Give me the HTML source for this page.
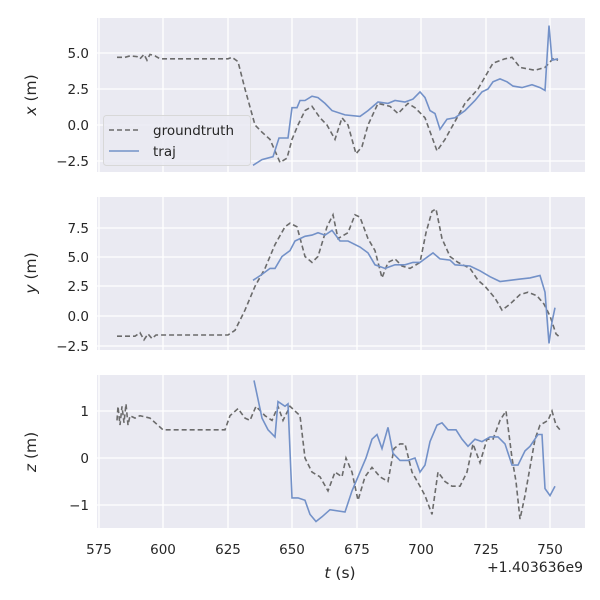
<!DOCTYPE html>
<html><head><meta charset="utf-8"><style>body{margin:0;background:#fff}svg{display:block}text{font-family:"DejaVu Sans","Liberation Sans",sans-serif;fill:#262626}</style></head>
<body>
<svg id="s" width="600" height="600" xmlns="http://www.w3.org/2000/svg">
<rect width="600" height="600" fill="#fff"/>
<g id="g"></g>
<text x="340" y="578" font-size="15.5" text-anchor="middle"><tspan font-style="italic">t</tspan> (s)</text>
<text x="583" y="572" font-size="14" text-anchor="end">+1.403636e9</text>
<text transform="translate(36,95) rotate(-90)" font-size="15.5" text-anchor="middle"><tspan font-style="italic">x</tspan> (m)</text>
<text transform="translate(36,273) rotate(-90)" font-size="15.5" text-anchor="middle"><tspan font-style="italic">y</tspan> (m)</text>
<text transform="translate(36,452) rotate(-90)" font-size="15.5" text-anchor="middle"><tspan font-style="italic">z</tspan> (m)</text>
</svg>
<script>
const g=document.getElementById('g');let h='';
const xt=[[575,99],[600,163],[625,228],[650,292],[675,357],[700,421],[725,486],[750,550]];
const panels=[
{y0:18,y1:172,ticks:[[53,'5.0'],[89,'2.5'],[125,'0.0'],[161,'−2.5']],f:v=>125-v*14.4,
gt:[[117,4.7],[125,4.7],[130,4.8],[137,4.75],[140,4.6],[144,4.9],[147,4.5],[150,4.9],[155,4.8],[160,4.6],[228,4.6],[232,4.7],[238,4.4],[245,2.5],[255,0],[262,-0.5],[270,-1],[280,-2.6],[287,-2.3],[292,-1],[298,0],[305,1],[312,1.3],[320,0.5],[327,0],[335,-1],[342,0.5],[348,0],[356,-2],[362,-1.5],[368,0],[378,1.5],[390,1.3],[398,0.8],[408,1.5],[415,1.2],[425,0.5],[437,-1.8],[445,-1],[453,0],[465,1.5],[478,2.5],[493,4.3],[505,4.6],[512,4.7],[520,4],[535,3.8],[545,4],[553,4.6],[558,4.5]],
tr:[[253,-2.8],[262,-2.4],[273,-2.2],[279,-0.9],[288,-0.9],[292,1.2],[297,1.2],[300,1.7],[305,1.7],[312,2.0],[318,1.9],[325,1.5],[332,1.0],[345,0.7],[360,0.6],[368,1.0],[378,1.6],[388,1.5],[395,1.7],[405,1.6],[413,1.8],[420,2.3],[425,1.9],[430,1.0],[435,0.8],[440,-0.3],[447,0.4],[455,0.5],[465,1.0],[475,1.7],[482,2.3],[488,2.5],[493,3.0],[500,3.2],[507,3.0],[513,2.7],[522,2.6],[532,2.8],[540,2.6],[545,2.4],[549,6.9],[552,4.5],[558,4.6]]},
{y0:197,y1:350,ticks:[[228,'7.5'],[257,'5.0'],[286,'2.5'],[316,'0.0'],[346,'−2.5']],f:v=>316-v*11.9,
gt:[[117,-1.7],[135,-1.7],[140,-1.4],[144,-2],[148,-1.5],[152,-1.9],[156,-1.6],[228,-1.6],[235,-1.2],[245,0.5],[255,2.5],[265,4],[275,6],[285,7.5],[290,7.8],[297,7.5],[305,5],[312,4.5],[318,5],[327,7.5],[333,8.5],[338,6.5],[348,7],[355,8.5],[360,8.3],[368,6.5],[375,5.5],[382,3.2],[388,4.5],[395,4.8],[402,4.2],[410,4.0],[420,4.5],[426,7.0],[432,8.8],[436,9.0],[442,6.5],[450,5.0],[458,4.5],[470,4.0],[478,3.0],[485,2.5],[495,1.5],[502,0.5],[510,1.0],[520,1.8],[528,2.0],[537,1.7],[544,1.0],[550,0],[556,-1.5],[560,-1.8]],
tr:[[253,3.0],[262,3.5],[270,4.0],[275,4.0],[282,5.0],[290,5.5],[295,6.3],[305,6.7],[312,6.8],[318,7.0],[325,6.8],[332,7.2],[340,6.3],[348,6.3],[360,5.8],[368,5.3],[375,4.3],[385,4.0],[395,4.3],[405,4.3],[413,4.5],[420,4.5],[428,5.0],[433,5.3],[440,4.8],[450,4.7],[455,4.3],[470,4.2],[480,3.8],[490,3.3],[500,2.9],[510,3.0],[520,3.1],[530,3.2],[540,3.4],[545,2.0],[549,-2.3],[552,-0.5],[555,0.7]]},
{y0:375,y1:528,ticks:[[411,'1'],[458,'0'],[505,'−1']],f:v=>458-v*47,
gt:[[117,0.8],[118,1.1],[120,0.7],[122,1.1],[124,0.75],[126,1.15],[128,0.7],[130,0.9],[135,0.85],[140,0.9],[150,0.85],[163,0.6],[225,0.6],[230,0.9],[238,1.05],[245,0.85],[250,0.8],[256,1.1],[265,0.9],[272,0.8],[278,1.1],[283,0.8],[290,1.1],[295,1.0],[300,0.9],[305,0.0],[312,-0.3],[320,-0.4],[328,-0.7],[335,-0.3],[342,-0.4],[346,0.0],[352,-0.3],[358,-0.9],[365,-0.4],[372,-0.2],[380,-0.4],[388,-0.5],[394,0.2],[400,0.3],[405,0.3],[412,-0.3],[420,-0.6],[425,-0.8],[432,-1.2],[438,-0.3],[445,-0.5],[452,-0.6],[460,-0.6],[467,-0.3],[473,0.3],[480,-0.1],[487,0.4],[493,0.4],[500,0.8],[506,1.0],[512,0.0],[516,-0.5],[520,-1.3],[525,-0.8],[530,-0.2],[535,0.4],[540,0.7],[548,0.8],[552,1.0],[556,0.7],[560,0.6]],
tr:[[254,1.65],[262,0.85],[268,0.6],[275,0.45],[278,1.2],[285,1.1],[288,1.15],[292,-0.85],[298,-0.85],[305,-0.9],[310,-1.2],[316,-1.35],[322,-1.25],[330,-1.1],[345,-1.15],[352,-0.7],[360,-0.3],[366,0.0],[372,0.4],[377,0.5],[382,0.2],[388,0.65],[393,0.1],[400,-0.05],[408,-0.05],[415,0.0],[420,-0.3],[425,-0.15],[430,0.35],[437,0.7],[442,0.75],[448,0.6],[456,0.6],[462,0.4],[468,0.25],[475,0.4],[482,0.35],[490,0.45],[498,0.45],[505,0.3],[512,-0.15],[518,-0.15],[525,0.15],[530,0.25],[538,0.5],[542,0.5],[545,-0.65],[550,-0.8],[555,-0.6]]}];
panels.forEach((p,i)=>{
h+=`<rect x="97" y="${p.y0}" width="488" height="${p.y1-p.y0}" fill="#eaeaf2"/>`;
xt.forEach(t=>{h+=`<line x1="${t[1]}" x2="${t[1]}" y1="${p.y0}" y2="${p.y1}" stroke="#fff" stroke-width="1.3"/>`;});
p.ticks.forEach(t=>{h+=`<line x1="97" x2="585" y1="${t[0]}" y2="${t[0]}" stroke="#fff" stroke-width="1.3"/><text x="89" y="${t[0]+5}" font-size="13.5" text-anchor="end">${t[1]}</text>`;});
const pts=a=>a.map(q=>q[0]+','+p.f(q[1]).toFixed(1)).join(' ');
h+=`<polyline points="${pts(p.gt)}" fill="none" stroke="#6b6b6b" stroke-width="1.6" stroke-dasharray="5,3"/>`;
h+=`<polyline points="${pts(p.tr)}" fill="none" stroke="#7391c8" stroke-width="1.6"/>`;
});
xt.forEach(t=>{h+=`<text x="${t[1]}" y="554" font-size="13.5" text-anchor="middle">${t[0]}</text>`;});
h+=`<rect x="103.5" y="115.5" width="147" height="50" rx="3" fill="#eaeaf2" fill-opacity="0.85" stroke="#d8d8d8"/>`;
h+=`<line x1="109" x2="139" y1="130" y2="130" stroke="#6b6b6b" stroke-width="1.6" stroke-dasharray="5,3"/><text x="153" y="135" font-size="13.5">groundtruth</text>`;
h+=`<line x1="109" x2="139" y1="151" y2="151" stroke="#7391c8" stroke-width="1.6"/><text x="153" y="156" font-size="13.5">traj</text>`;
g.innerHTML=h;
</script>
</body></html>
